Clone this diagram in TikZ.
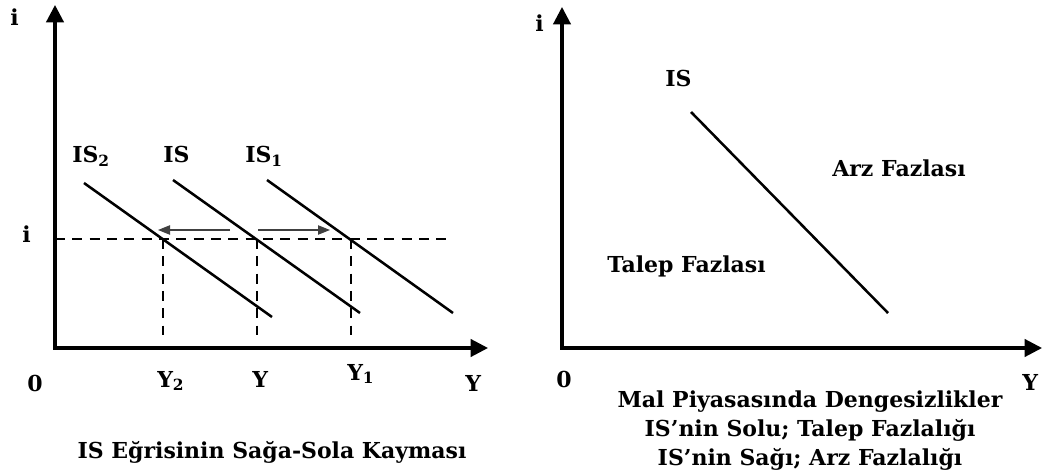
\documentclass[tikz,border=0pt]{standalone}
\usepackage{fontspec}
\setmainfont{DejaVu Serif}
\usetikzlibrary{arrows.meta}

\begin{document}
\begin{tikzpicture}[
    x=0.75pt, y=-0.75pt,
    >=Stealth,
    font=\bfseries\fontsize{16.5}{19}\selectfont,
    axis/.style={line width=2.3pt,
                 {Triangle[length=13pt,width=13pt]}-{Triangle[length=13pt,width=13pt]}},
    isline/.style={line width=1.9pt},
    guide/.style={line width=1.2pt, dash pattern=on 7.5pt off 5.5pt},
    shiftarrow/.style={draw=black!75, line width=0.9pt,
                       -{Triangle[length=9pt,width=7pt]}},
    lbl/.style={anchor=base west, inner sep=0pt},
    caption/.style={anchor=base, inner sep=0pt, align=center}
  ]
    \useasboundingbox (0,0) rectangle (1044,473);

    % left panel: shifts of the IS curve
    \coordinate (O1)    at (55,348);
    \coordinate (itop1) at (55,5);
    \coordinate (Yend1) at (488,348);
    \draw[axis] (itop1) -- (O1) -- (Yend1);

    \coordinate (is2a) at (84,183);  \coordinate (is2b) at (272,317);
    \coordinate (isa)  at (173,180); \coordinate (isb)  at (360,313);
    \coordinate (is1a) at (267,180); \coordinate (is1b) at (453,313);
    \draw[isline] (is2a) -- (is2b);
    \draw[isline] (isa)  -- (isb);
    \draw[isline] (is1a) -- (is1b);

    \coordinate (e2) at (163,239);
    \coordinate (e0) at (257,239);
    \coordinate (e1) at (351,239);
    \coordinate (iend) at (453,239);
    \draw[guide] (O1 |- e0) -- (iend);
    \draw[guide] (e2) -- (e2 |- 0,335);
    \draw[guide] (e0) -- (e0 |- 0,335);
    \draw[guide] (e1) -- (e1 |- 0,335);

    \coordinate (mid)    at (244,230);
    \coordinate (leftA)  at (158,230);
    \coordinate (rightA) at (330,230);
    \draw[shiftarrow] ([xshift=-10.5pt]mid) -- (leftA);
    \draw[shiftarrow] ([xshift=10.5pt]mid) -- (rightA);

    \node[lbl] (lblIStwo) at (72,163)  {IS\textsubscript{2}};
    \node[lbl] (lblIS)    at (163,163) {IS};
    \node[lbl] (lblISone) at (245,163) {IS\textsubscript{1}};
    \node[lbl] (iax1)  at (10,26)   {i};
    \node[lbl] (ilev)  at (22,243)  {i};
    \node[lbl] (zero1) at (27,391)  {0};
    \node[lbl] (ytwo)  at (157,387) {Y\textsubscript{2}};
    \node[lbl] (yzero) at (252,387) {Y};
    \node[lbl] (yone)  at (347,380) {Y\textsubscript{1}};
    \node[lbl] (yax1)  at (465,391) {Y};
    \node[caption] (cap1) at (272,458) {IS Eğrisinin Sağa-Sola Kayması};

    % right panel: disequilibrium in the goods market
    \coordinate (O2)    at (562,348);
    \coordinate (itop2) at (562,7);
    \coordinate (Yend2) at (1042,348);
    \draw[axis] (itop2) -- (O2) -- (Yend2);

    \coordinate (isTop) at (691,112);
    \coordinate (isBot) at (888,313);
    \draw[isline] (isTop) -- (isBot);

    \node[lbl] (iax2)  at (535,32)  {i};
    \node[lbl] (lblIS2) at (665,87) {IS};
    \node[lbl] (arz)   at (832,177) {Arz Fazlası};
    \node[lbl] (talep) at (607,273) {Talep Fazlası};
    \node[lbl] (zero2) at (556,387) {0};
    \node[lbl] (yax2)  at (1022,390) {Y};
    \node[caption, font=\bfseries\fontsize{16.5}{21.75}\selectfont] (cap2) at (810,465)
      {Mal Piyasasında Dengesizlikler\\IS’nin Solu; Talep Fazlalığı\\IS’nin Sağı; Arz Fazlalığı};
\end{tikzpicture}
\end{document}
